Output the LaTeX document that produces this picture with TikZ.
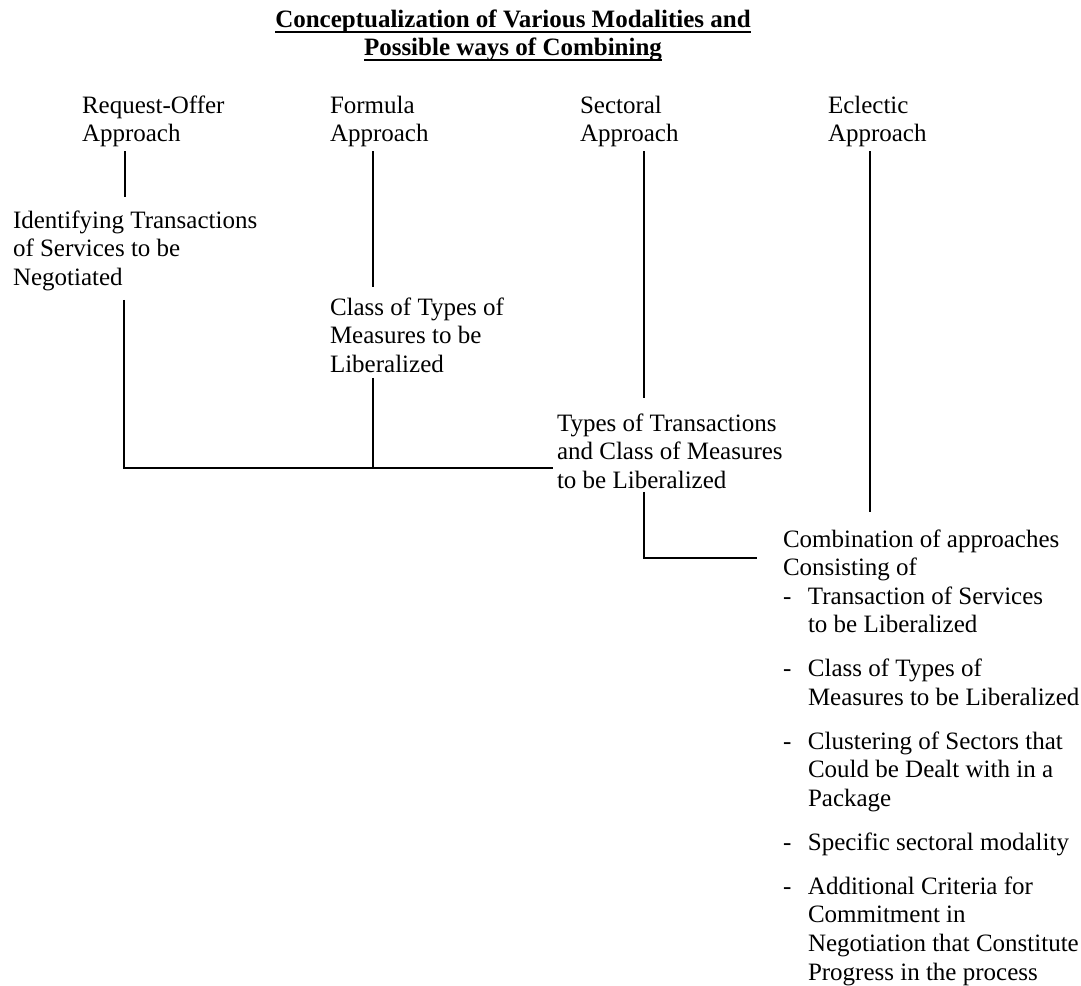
\documentclass[tikz,border=0pt]{standalone}
\usepackage{fontspec}
\setmainfont{Liberation Serif}
\usetikzlibrary{calc}
% underlined heading line
\newcommand\headline[1]{\setbox0=\hbox{#1}\rlap{\rule[-4.4pt]{\wd0}{1.2pt}}\box0}
% left-aligned block whose baseline is its first line
\newcommand\blocktext[1]{\begin{tabular}[t]{@{}l@{}}#1\end{tabular}}
\begin{document}
\begin{tikzpicture}[x=0.75pt,y=-0.75pt,
  every node/.style={inner sep=0pt,outer sep=0pt,
    font=\fontsize{18.75pt}{21.45pt}\selectfont},
  txt/.style={anchor=base west},
  link/.style={line width=1.4pt}]
\useasboundingbox (0,0) rectangle (1081,985);

% heading
\node[anchor=base,font=\fontsize{18.75pt}{21.45pt}\selectfont\bfseries] (head1) at (513,27)
  {\headline{Conceptualization of Various Modalities and}};
\node[anchor=base,font=\fontsize{18.75pt}{21.45pt}\selectfont\bfseries] (head2) at (513,55)
  {\headline{Possible ways of Combining}};

% the four approaches
\node[txt] (ro)  at (82,113)  {\blocktext{Request-Offer\\Approach}};
\node[txt] (fo)  at (330,113) {\blocktext{Formula\\Approach}};
\node[txt] (se)  at (580,113) {\blocktext{Sectoral\\Approach}};
\node[txt] (ec)  at (828,113) {\blocktext{Eclectic\\Approach}};

% outcomes
\node[txt] (ident) at (13,228)  {\blocktext{Identifying Transactions\\of Services to be\\Negotiated}};
\node[txt] (class) at (330,315) {\blocktext{Class of Types of\\Measures to be\\Liberalized}};
\node[txt] (types) at (557,431) {\blocktext{Types of Transactions\\and Class of Measures\\to be Liberalized}};
\node[txt] (comb)  at (783,547) {%
  \begin{tabular}[t]{@{}p{18.75pt}@{}l@{}}
  \multicolumn{2}{@{}l@{}}{Combination of approaches}\\
  \multicolumn{2}{@{}l@{}}{Consisting of}\\
  - & Transaction of Services\\
    & to be Liberalized\\[11.5pt]
  - & Class of Types of\\
    & Measures to be Liberalized\\[11.5pt]
  - & Clustering of Sectors that\\
    & Could be Dealt with in a\\
    & Package\\[11.5pt]
  - & Specific sectoral modality\\[11.5pt]
  - & Additional Criteria for\\
    & Commitment in\\
    & Negotiation that Constitute\\
    & Progress in the process
  \end{tabular}};

% connectors
\coordinate (barR) at ($(types.west)+(-4,14)$);
\coordinate (elbow) at ($(comb.north west)+(-26,31)$);

\draw[link] ($(ro.south west)+(43,1)$) -- ($(ident.north west)+(112,-11)$);
\draw[link] ($(fo.south west)+(43,1)$) -- ($(class.north west)+(43,-8)$);
\draw[link] ($(se.south west)+(64,1)$) -- ($(types.north west)+(87,-13)$);
\draw[link] ($(ec.south west)+(42,1)$) -- ($(comb.north west)+(87,-15)$);

\draw[link] ($(ident.south west)+(111,6)$) |- (barR);
\draw[link] ($(class.south west)+(43,-3)$) coordinate (cdrop) -- (cdrop |- barR);
\draw[link] ($(types.south west)+(87,-5)$) |- (elbow);
\end{tikzpicture}
\end{document}
